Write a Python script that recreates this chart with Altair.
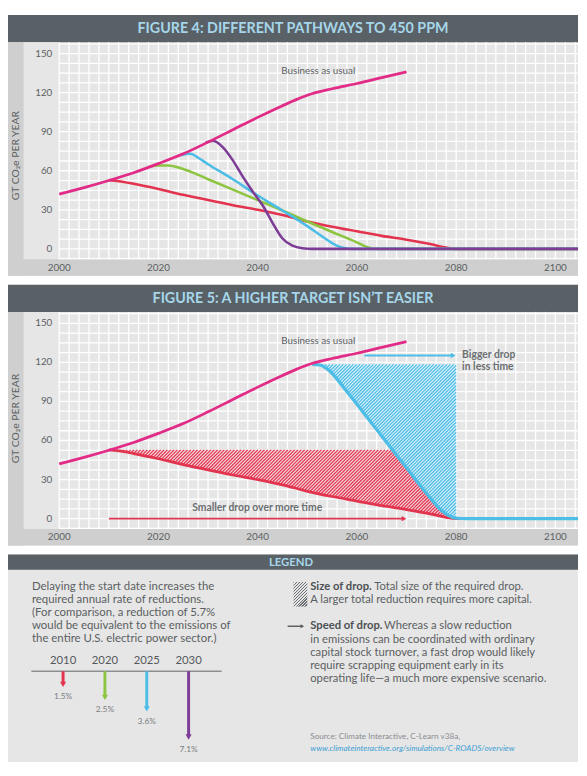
import math
import numpy as np
import altair as alt
import pandas as pd

# ------------------------------------------------------------------ text
fig_titles = ["FIGURE 4: DIFFERENT PATHWAYS TO 450 PPM",
              "FIGURE 5: A HIGHER TARGET ISN\u2019T EASIER"]
legend_title = "LEGEND"
y_title = "GT CO\u2082e PER YEAR"
bau_label = "Business as usual"

# ------------------------------------------------------------------ axis ticks / grid
x_tick_years = [2000, 2020, 2040, 2060, 2080, 2100]
y_tick_vals = [0, 30, 60, 90, 120, 150]
grid_years = list(range(2000, 2105, 2))
grid_vals = [i * 7.5 for i in range(-1, 22)]

# ------------------------------------------------------------------ series (GT CO2e / year)
bau_years = [2000, 2005, 2010, 2015, 2020, 2025, 2030, 2035, 2040, 2045, 2048, 2050, 2055, 2060, 2065, 2070]
bau_vals = [42, 47, 52.5, 58.5, 65.5, 73, 82, 91.5, 101, 110, 115, 118, 123, 127, 131.5, 136]

p2010_years = [2010, 2012, 2015, 2020, 2025, 2030, 2035, 2040, 2045, 2050, 2055, 2060, 2065, 2070, 2075, 2078, 2080, 2105]
p2010_vals = [52.8, 52, 50, 46, 41.5, 37.5, 33.5, 30, 26, 21, 17, 13.5, 10, 7, 3.5, 1, 0, 0]

p2020_years = [2018, 2020, 2022, 2024, 2026, 2030, 2035, 2040, 2045, 2050, 2055, 2060, 2062, 2064, 2105]
p2020_vals = [63, 64, 64, 62.5, 60, 53.5, 45.5, 37.5, 29.5, 21, 13, 5, 1.5, 0, 0]

p2025_years = [2024.5, 2026.5, 2028, 2030, 2035, 2040, 2045, 2050, 2053, 2055, 2057, 2059, 2105]
p2025_vals = [72, 73, 70, 65, 53.5, 41, 29.5, 17.5, 9.5, 4.5, 1, 0, 0]

p2030_years = [2029.5, 2031, 2033, 2035, 2037, 2039, 2041, 2043, 2045, 2047, 2049, 2051, 2105]
p2030_vals = [81.5, 83, 78, 68, 55.5, 44, 33.5, 20, 8, 2.5, 0.5, 0, 0]

# Figure 5: late, steep pathway starting 2050
late_years = [2051, 2052.5, 2054, 2058, 2062, 2066, 2070, 2074, 2077, 2079, 2080, 2082, 2105]
late_vals = [118.5, 118, 115, 97.5, 78, 58.5, 39, 19.5, 6.5, 1.5, 0.3, 0, 0]

# hatched "size of drop" regions
red_hatch_years = [2010, 2015, 2020, 2025, 2030, 2035, 2040, 2045, 2050, 2055, 2060, 2065, 2067.2, 2070, 2074, 2077, 2079, 2080]
red_hatch_top = [52.8, 52.8, 52.8, 52.8, 52.8, 52.8, 52.8, 52.8, 52.8, 52.8, 52.8, 52.8, 52.8, 39, 19.5, 6.5, 1.5, 0.3]
red_hatch_bottom = [52.8, 50, 46, 41.5, 37.5, 33.5, 30, 26, 21, 17, 13.5, 10, 8.5, 7, 4.2, 1.8, 0.5, 0]

blue_hatch_years = [2051, 2052.5, 2054, 2058, 2062, 2066, 2070, 2074, 2077, 2079, 2080]
blue_hatch_top = [118.5, 118.5, 118.5, 118.5, 118.5, 118.5, 118.5, 118.5, 118.5, 118.5, 118.5]
blue_hatch_bottom = [118.5, 118, 115, 97.5, 78, 58.5, 39, 19.5, 6.5, 1.5, 0.3]

# annotations of figure 5
big_arrow_years = [2061.5, 2079.4]
big_arrow_level = 125.3
bigger_text = ["Bigger drop", "in less time"]
bigger_text_pos = [2081.2, 125.5, 116.7]
small_arrow_years = [2010, 2069.5]
small_arrow_level = 0
smaller_text = "Smaller drop over more time"
smaller_text_pos = [2039.9, 8.5]
bau_label_pos = [2052.2, 136.3]

# legend
legend_years = ["2010", "2020", "2025", "2030"]
legend_rates = [1.5, 2.5, 3.6, 7.1]
legend_rate_labels = ["1.5%", "2.5%", "3.6%", "7.1%"]
left_para = ["Delaying the start date increases the",
             "required annual rate of reductions.",
             "(For comparison, a reduction of 5.7%",
             "would be equivalent to the emissions of",
             "the entire U.S. electric power sector.)"]
size_bold = "Size of drop."
size_rest = "Total size of the required drop."
size_line2 = "A larger total reduction requires more capital."
speed_bold = "Speed of drop."
speed_rest = "Whereas a slow reduction"
speed_lines = ["in emissions can be coordinated with ordinary",
               "capital stock turnover, a fast drop would likely",
               "require scrapping equipment early in its",
               "operating life\u2014a much more expensive scenario."]
source_line = "Source: Climate Interactive, C-Learn v38a,"
source_url = "www.climateinteractive.org/simulations/C-ROADS/overview"

# ------------------------------------------------------------------ style
FONT = "Lato"
HEADER = "#596166"
TITLE_C = "#a6d6ea"
LIGHT = "#e6e6e6"
STRIP = "#cfcfcf"
TXT = "#5b5f62"
MAGENTA = "#e12b86"
RED = "#e2344f"
GREEN = "#8dc541"
BLUE = "#4cbde6"
PURPLE = "#7d3d97"

W = 579
PH = 265
HDR = 27.7
GB = 248.3
LS = 16
LA = 51
X_DOM = [1989.68, 2104.56]
Y_DOM = [-20.64, 179.71]
PX_PER_YEAR = W / (X_DOM[1] - X_DOM[0])
PX_PER_UNIT = PH / (Y_DOM[1] - Y_DOM[0])

ONE = pd.DataFrame({"k": [0]})


def stripes(c1, c2, w, h, period=3, duty=0.45):
    """Diagonal (////) hatch as a linear gradient in bounding-box units (used for the small legend swatch)."""
    n = int(math.ceil((w + h) / period))
    D = n * period
    k = D / (w * w + h * h)
    stops = []
    for i in range(n):
        a, m, b = i / n, (i + duty) / n, (i + 1) / n
        stops += [{"offset": a, "color": c1}, {"offset": m, "color": c1},
                  {"offset": m, "color": c2}, {"offset": b, "color": c2}]
    return {"gradient": "linear", "x1": 0, "y1": 0, "x2": w * k, "y2": h * k, "stops": stops}


def hatch_lines(years, top, bottom, step=3.4):
    """Diagonal hatch strokes (////) clipped to the band between bottom and top (style only)."""
    xp = [(y - X_DOM[0]) * PX_PER_YEAR for y in years]
    tp = [(Y_DOM[1] - v) * PX_PER_UNIT for v in top]
    bp = [(Y_DOM[1] - v) * PX_PER_UNIT for v in bottom]
    px = np.arange(xp[0], xp[-1], 0.05)
    tpi = np.interp(px, xp, tp)
    bpi = np.interp(px, xp, bp)
    cmin, cmax = (px + tpi).min(), (px + bpi).max()
    rows = []
    for c in np.arange(math.ceil(cmin / step) * step, cmax, step):
        py = c - px
        idx = np.where((py >= tpi) & (py <= bpi))[0]
        if len(idx) < 2:
            continue
        a, b = px[idx[0]], px[idx[-1]]
        rows.append({"year": X_DOM[0] + a / PX_PER_YEAR, "v": Y_DOM[1] - (c - a) / PX_PER_UNIT,
                     "year2": X_DOM[0] + b / PX_PER_YEAR, "v2": Y_DOM[1] - (c - b) / PX_PER_UNIT})
    return pd.DataFrame(rows)


def xs():
    return alt.Scale(domain=X_DOM, nice=False, zero=False)


def ys():
    return alt.Scale(domain=Y_DOM, nice=False, zero=False)


def X(field="year"):
    return alt.X(f"{field}:Q", scale=xs(), axis=None)


def Y(field="v"):
    return alt.Y(f"{field}:Q", scale=ys(), axis=None)


def box(x, x2, y, y2, fill):
    return alt.Chart(ONE).mark_rect(fill=fill, strokeWidth=0).encode(
        x=alt.value(x), x2=alt.value(x2), y=alt.value(y), y2=alt.value(y2))


def series(years, vals, color, width=2.6):
    df = pd.DataFrame({"year": years, "v": vals})
    return alt.Chart(df).mark_line(color=color, strokeWidth=width, interpolate="monotone",
                                   clip=True).encode(x=X(), y=Y())


def grid_layers():
    v = alt.Chart(pd.DataFrame({"year": grid_years})).mark_rule(color="white", strokeWidth=1.3).encode(
        x=X(), y=alt.value(HDR), y2=alt.value(GB))
    h = alt.Chart(pd.DataFrame({"v": grid_vals})).mark_rule(color="white", strokeWidth=1.3).encode(
        y=Y(), x=alt.value(LA + 1), x2=alt.value(W))
    return [v, h]


def frame_back():
    return [box(0, W, 0, HDR, HEADER), box(0, LS, HDR, PH, STRIP),
            box(LS, LA, HDR, GB, LIGHT), box(0, W, GB, PH, STRIP)]


def frame_text(title, ty):
    t = alt.Chart(pd.DataFrame({"t": [title]})).mark_text(
        font=FONT, fontSize=14.5, fontWeight="bold", color=TITLE_C).encode(
        x=alt.value(W / 2), y=alt.value(HDR / 2 + 0.5), text="t:N")
    yt = alt.Chart(pd.DataFrame({"t": [y_title]})).mark_text(
        font=FONT, fontSize=10.5, color=TXT, angle=270).encode(
        x=alt.value(8), y=alt.value(ty), text="t:N")
    xl = alt.Chart(pd.DataFrame({"year": x_tick_years, "lab": [str(v) for v in x_tick_years]})).mark_text(
        font=FONT, fontSize=10, color=TXT).encode(x=X(), y=alt.value(256.8), text="lab:N")
    yl = alt.Chart(pd.DataFrame({"v": y_tick_vals, "lab": [str(v) for v in y_tick_vals]})).mark_text(
        font=FONT, fontSize=10, color=TXT, align="right").encode(x=alt.value(45), y=Y(), text="lab:N")
    bl = alt.Chart(pd.DataFrame({"year": [bau_label_pos[0]], "v": [bau_label_pos[1]], "t": [bau_label]})).mark_text(
        font=FONT, fontSize=10, color=TXT).encode(x=X(), y=Y(), text="t:N")
    return [t, yt, xl, yl, bl]


# ------------------------------------------------------------------ figure 4
fig4 = alt.layer(
    *frame_back(),
    *grid_layers(),
    series(p2010_years, p2010_vals, RED),
    series(p2020_years, p2020_vals, GREEN),
    series(p2025_years, p2025_vals, BLUE),
    series(p2030_years, p2030_vals, PURPLE),
    series(bau_years, bau_vals, MAGENTA, 2.8),
    *frame_text(fig_titles[0], 143),
).properties(width=W, height=PH)

# ------------------------------------------------------------------ figure 5
def hatched(years, top, bottom, color, pale):
    base = alt.Chart(pd.DataFrame({"year": years, "v": top, "v2": bottom})).mark_area(
        fill=pale, interpolate="linear").encode(x=X(), y=Y(), y2="v2:Q")
    lines = alt.Chart(hatch_lines(years, top, bottom)).mark_rule(color=color, strokeWidth=1.3).encode(
        x=X(), y=Y(), x2="year2:Q", y2="v2:Q")
    return [base, lines]


def harrow(years, level, color, width):
    df = pd.DataFrame({"year": [years[0]], "year2": [years[1]], "v": [level]})
    shaft = alt.Chart(df).mark_rule(color=color, strokeWidth=width).encode(x=X(), x2="year2:Q", y=Y())
    head = alt.Chart(df).mark_point(shape="triangle-right", filled=True, color=color, opacity=1,
                                    size=30, strokeWidth=0).encode(x=X("year2"), y=Y())
    return [shaft, head]


bigger = alt.Chart(pd.DataFrame({"year": [bigger_text_pos[0]] * 2, "v": bigger_text_pos[1:], "t": bigger_text})).mark_text(
    font=FONT, fontSize=10.5, fontWeight="bold", color="#6b6f72", align="left").encode(x=X(), y=Y(), text="t:N")
smaller = alt.Chart(pd.DataFrame({"year": [smaller_text_pos[0]], "v": [smaller_text_pos[1]], "t": [smaller_text]})).mark_text(
    font=FONT, fontSize=10.5, fontWeight="bold", color="#6b6f72").encode(x=X(), y=Y(), text="t:N")

fig5 = alt.layer(
    *frame_back(),
    *grid_layers(),
    *hatched(red_hatch_years, red_hatch_top, red_hatch_bottom, RED, "#f4dde2"),
    *hatched(blue_hatch_years, blue_hatch_top, blue_hatch_bottom, BLUE, "#def1f9"),
    series(p2010_years, p2010_vals, RED, 2.8),
    series(late_years, late_vals, BLUE, 3.2),
    series(bau_years, bau_vals, MAGENTA, 2.8),
    *harrow(big_arrow_years, big_arrow_level, BLUE, 2),
    *harrow(small_arrow_years, small_arrow_level, RED, 1.6),
    bigger, smaller,
    *frame_text(fig_titles[1], 136),
).properties(width=W, height=PH)

# ------------------------------------------------------------------ legend
LH = 211
LHDR = 15.7
leg_df = pd.DataFrame({"yr": legend_years, "rate": legend_rates, "lab": legend_rate_labels})
lx = alt.X("yr:N", scale=alt.Scale(type="point", domain=legend_years, range=[34.7, 204.7]), axis=None)
ly = alt.Y("rate:Q", scale=alt.Scale(type="sqrt", domain=[1.5, 7.1], range=[132, 185.5], zero=False, nice=False), axis=None)
color_enc = alt.Color("yr:N", scale=alt.Scale(domain=legend_years, range=[RED, GREEN, BLUE, PURPLE]), legend=None)

leg_header = box(0, W, 0, LHDR, HEADER)
leg_title = alt.Chart(pd.DataFrame({"t": [legend_title]})).mark_text(
    font=FONT, fontSize=11.5, fontWeight="bold", color=TITLE_C).encode(x=alt.value(W / 2 - 2), y=alt.value(LHDR / 2 + 0.5), text="t:N")

para = alt.Chart(ONE).mark_text(font=FONT, fontSize=11.6, color=TXT, align="left", baseline="top",
                                lineHeight=13.2).encode(x=alt.value(24.3), y=alt.value(27.2), text=alt.value(left_para))
yr_labels = alt.Chart(leg_df).mark_text(font=FONT, fontSize=11.5, color="#55595c").encode(
    x=lx, y=alt.value(108.7), text="yr:N")
base_line = alt.Chart(ONE).mark_rule(color="#8c8f91", strokeWidth=1.6).encode(
    x=alt.value(23.7), x2=alt.value(217), y=alt.value(118.7))
shafts = alt.Chart(leg_df).mark_rule(strokeWidth=3).encode(x=lx, y=ly, y2=alt.value(118.7), color=color_enc)
heads = alt.Chart(leg_df).mark_point(shape="triangle-down", filled=True, opacity=1, size=38, strokeWidth=0).encode(
    x=lx, y=ly, color=color_enc)
pct = alt.Chart(leg_df).mark_text(font=FONT, fontSize=8.5, color="#7a7d80", dy=12).encode(x=lx, y=ly, text="lab:N")

icon = box(290, 304, 28, 53, stripes("#6a6e71", "#e6e6e6", 14, 25, period=3, duty=0.5))


def txt(s, x, y, bold=False, size=11.4, color=TXT, italic=False, lh=None):
    kw = dict(font=FONT, fontSize=size, color=color, align="left")
    if bold:
        kw["fontWeight"] = "bold"
    if italic:
        kw["fontStyle"] = "italic"
    if lh is not None:
        kw["lineHeight"] = lh
        kw["baseline"] = "top"
    return alt.Chart(ONE).mark_text(**kw).encode(x=alt.value(x), y=alt.value(y), text=alt.value(s))


arrow_shaft = alt.Chart(ONE).mark_rule(color="#55595c", strokeWidth=1.4).encode(
    x=alt.value(284), x2=alt.value(298), y=alt.value(73))
arrow_head = alt.Chart(ONE).mark_point(shape="triangle-right", filled=True, color="#55595c", opacity=1,
                                       size=18, strokeWidth=0).encode(x=alt.value(299), y=alt.value(73))

legend = alt.layer(
    leg_header, leg_title, para, base_line, shafts, heads, yr_labels, pct, icon,
    txt(size_bold, 307, 33, bold=True, color="#4d5154"),
    txt(size_rest, 372, 33),
    txt(size_line2, 307, 46.3),
    arrow_shaft, arrow_head,
    txt(speed_bold, 307, 73, bold=True, color="#4d5154"),
    txt(speed_rest, 382, 73),
    txt(speed_lines, 307, 80.6, lh=13.3),
    txt(source_line, 307, 185.7, size=8.3, color="#8a8d90"),
    txt(source_url, 307, 197.3, size=8.3, color="#3d9fd3", italic=True),
).properties(width=W, height=LH)

chart = alt.vconcat(fig4, fig5, legend, spacing=9).properties(
    padding={"left": 0, "top": 1, "right": 0, "bottom": 0},
    background="white",
).configure_view(stroke=None, fill=LIGHT)

chart.save("out.html", embed_options={"renderer": "svg", "actions": False})
